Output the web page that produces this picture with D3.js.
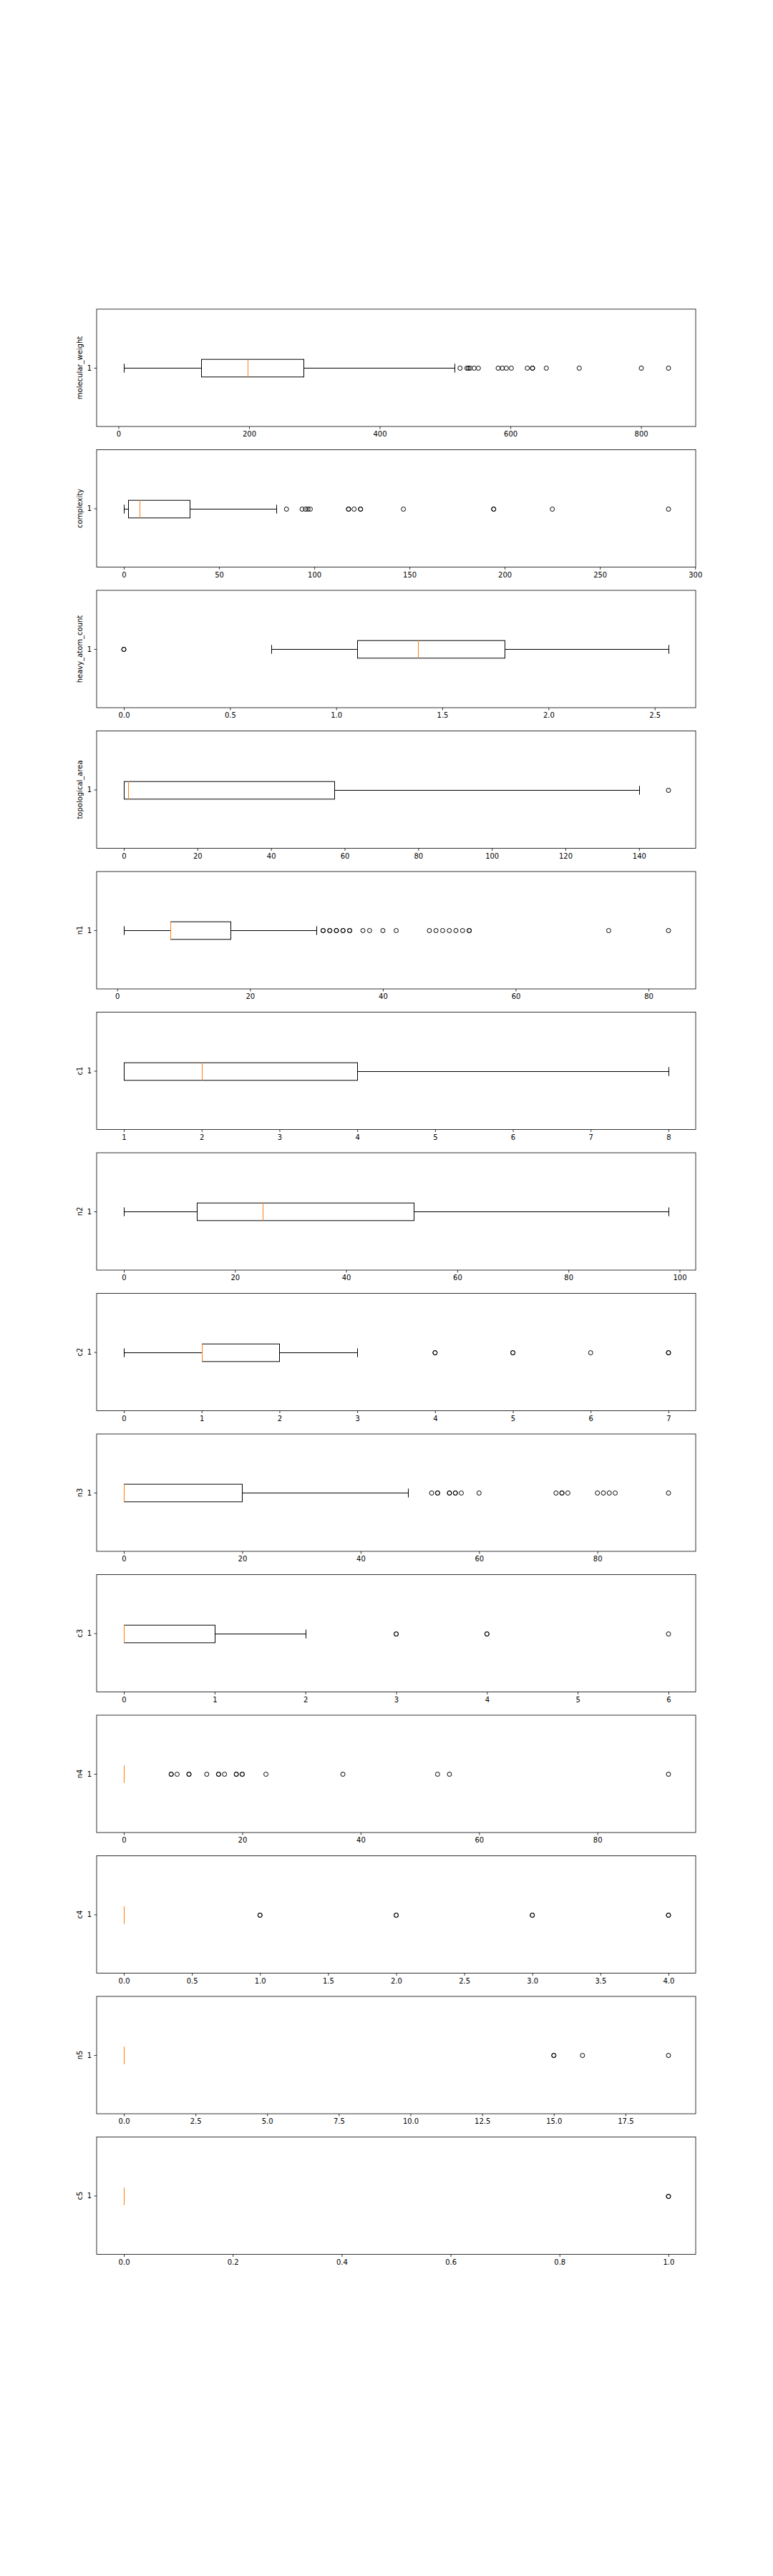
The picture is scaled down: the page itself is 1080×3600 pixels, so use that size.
<!DOCTYPE html>
<html>
<head>
<meta charset="utf-8">
<script src="https://cdn.jsdelivr.net/npm/d3@7"></script>
<style>
  html, body { margin: 0; padding: 0; background: #fff; }
  svg { display: block; }
  text { font-family: "DejaVu Sans", sans-serif; }
</style>
</head>
<body>
<div id="chart"></div>
<script>
// ---- Data ----
const features = ["molecular_weight", "complexity", "heavy_atom_count", "topological_area",
  "n1", "c1", "n2", "c2", "n3", "c3", "n4", "c4", "n5", "c5"];

const whiskerLow  = [8.3, 0, 0.693, 0, 1, 1, 0, 0, 0, 0, 0, 0, 0, 0];
const q1          = [126.8, 2.1, 1.099, 0, 8, 1, 13.1, 1, 0, 0, 0, 0, 0, 0];
const medians     = [197.7, 8.3, 1.386, 1.1, 8, 2, 25, 1, 0, 0, 0, 0, 0, 0];
const q3          = [283, 34.4, 1.792, 57.2, 17.1, 4, 52.1, 2, 20, 1, 0, 0, 0, 0];
const whiskerHigh = [514.5, 80.1, 2.565, 140.1, 30, 8, 98, 3, 48, 2, 0, 0, 0, 0];

const fliers = [
  [523, 533.5, 535.7, 538.3, 544.4, 551, 581.3, 587.6, 593.7, 601.4, 625.9, 633.9, 633.9, 655, 705.4, 800.4, 842],
  [85.4, 93.6, 95.4, 96.7, 97.9, 118, 118, 120.9, 124.3, 124.3, 146.8, 194.2, 194.2, 225, 286],
  [0, 0],
  [148],
  [31, 31, 32, 32, 33, 33, 34, 34, 35, 35, 37, 38, 40, 42, 47, 48, 49, 50, 51, 52, 53, 53, 74, 83],
  [],
  [],
  [4, 4, 5, 5, 6, 7, 7],
  [52, 53, 53, 55, 55, 56, 56, 57, 60, 73, 74, 74, 75, 80, 81, 82, 83, 92],
  [3, 3, 4, 4, 6],
  [8, 8, 9, 11, 11, 14, 16, 16, 17, 19, 19, 20, 20, 24, 37, 53, 55, 92],
  [1, 1, 2, 2, 3, 3, 4, 4],
  [15, 15, 16, 19],
  [1, 1]
];

const tickLabels = [
  ["0", "200", "400", "600", "800"],
  ["0", "50", "100", "150", "200", "250", "300"],
  ["0.0", "0.5", "1.0", "1.5", "2.0", "2.5"],
  ["0", "20", "40", "60", "80", "100", "120", "140"],
  ["0", "20", "40", "60", "80"],
  ["1", "2", "3", "4", "5", "6", "7", "8"],
  ["0", "20", "40", "60", "80", "100"],
  ["0", "1", "2", "3", "4", "5", "6", "7"],
  ["0", "20", "40", "60", "80"],
  ["0", "1", "2", "3", "4", "5", "6"],
  ["0", "20", "40", "60", "80"],
  ["0.0", "0.5", "1.0", "1.5", "2.0", "2.5", "3.0", "3.5", "4.0"],
  ["0.0", "2.5", "5.0", "7.5", "10.0", "12.5", "15.0", "17.5"],
  ["0.0", "0.2", "0.4", "0.6", "0.8", "1.0"]
];

// ---- Layout ----
const W = 1080, H = 3600;
const left = 135, right = 972;
const top0 = 432, step = 196.5, ph = 164;
const boxWidth = 0.15, capWidth = 0.075;
const medianColor = "#ff7f0e";

const svg = d3.select("#chart").append("svg")
  .attr("width", W).attr("height", H)
  .attr("viewBox", `0 0 ${W} ${H}`);
svg.append("rect").attr("width", W).attr("height", H).attr("fill", "#fff");

features.forEach((name, i) => {
  const top = top0 + i * step;
  const g = svg.append("g");

  const lo = d3.min([whiskerLow[i], ...fliers[i]]);
  const hi = d3.max([whiskerHigh[i], ...fliers[i]]);
  const pad = (hi - lo) * 0.05;
  const x = d3.scaleLinear().domain([lo - pad, hi + pad]).range([left, right]);
  const y = d3.scaleLinear().domain([0.5, 1.5]).range([top + ph, top]);
  const px = v => Math.round(x(v)) + 0.5;

  const yc = Math.round(y(1)) + 0.5;
  const bh = y(1 - boxWidth / 2) - y(1 + boxWidth / 2);
  const ch = y(1 - capWidth / 2) - y(1 + capWidth / 2);
  const flatBox = q1[i] === q3[i];

  // whiskers
  if (whiskerLow[i] !== q1[i]) {
    g.append("line").attr("x1", px(whiskerLow[i])).attr("x2", px(q1[i]))
      .attr("y1", yc).attr("y2", yc).attr("stroke", "#000").attr("stroke-width", 1);
  }
  if (whiskerHigh[i] !== q3[i]) {
    g.append("line").attr("x1", px(q3[i])).attr("x2", px(whiskerHigh[i]))
      .attr("y1", yc).attr("y2", yc).attr("stroke", "#000").attr("stroke-width", 1);
  }
  // caps (hidden under the median when the whole box collapses to one value)
  if (!flatBox || whiskerLow[i] !== whiskerHigh[i]) {
    [whiskerLow[i], whiskerHigh[i]].forEach(v => {
      g.append("line").attr("x1", px(v)).attr("x2", px(v))
        .attr("y1", yc - ch / 2).attr("y2", yc + ch / 2)
        .attr("stroke", "#000").attr("stroke-width", 1);
    });
  }
  // box
  if (!flatBox) {
    g.append("rect").attr("x", px(q1[i])).attr("y", yc - bh / 2)
      .attr("width", px(q3[i]) - px(q1[i])).attr("height", bh)
      .attr("fill", "none").attr("stroke", "#000").attr("stroke-width", 1);
  }
  // median
  g.append("line").attr("x1", px(medians[i])).attr("x2", px(medians[i]))
    .attr("y1", yc - bh / 2).attr("y2", yc + bh / 2)
    .attr("stroke", medianColor).attr("stroke-width", 1);
  // fliers
  g.selectAll("circle.f").data(fliers[i]).join("circle")
    .attr("class", "f")
    .attr("cx", d => x(d)).attr("cy", yc).attr("r", 3)
    .attr("fill", "none").attr("stroke", "#000").attr("stroke-width", 1);

  // x axis
  const ticks = tickLabels[i].map(Number);
  const xAxis = d3.axisBottom(x).tickValues(ticks)
    .tickFormat((d, k) => tickLabels[i][k])
    .tickSize(3.5).tickPadding(3.5);
  const gx = g.append("g").attr("transform", `translate(0,${top + ph})`).call(xAxis);
  gx.select(".domain").remove();
  gx.selectAll("line").attr("stroke", "#000").attr("stroke-width", 0.8);
  gx.selectAll("text").attr("fill", "#000").style("font-size", "10px")
    .style("font-family", "'DejaVu Sans', sans-serif");

  // y axis
  const yAxis = d3.axisLeft(y).tickValues([1]).tickFormat(() => "1")
    .tickSize(3.5).tickPadding(3.5);
  const gy = g.append("g").attr("transform", `translate(${left},0)`).call(yAxis);
  gy.select(".domain").remove();
  gy.selectAll("line").attr("stroke", "#000").attr("stroke-width", 0.8);
  gy.selectAll("text").attr("fill", "#000").style("font-size", "10px")
    .style("font-family", "'DejaVu Sans', sans-serif");

  // y label
  g.append("text")
    .attr("transform", `translate(115,${y(1)}) rotate(-90)`)
    .attr("text-anchor", "middle")
    .style("font-size", "10px")
    .attr("fill", "#000")
    .text(name);

  // frame
  g.append("rect").attr("x", left).attr("y", top)
    .attr("width", right - left).attr("height", ph)
    .attr("fill", "none").attr("stroke", "#000").attr("stroke-width", 0.8);
});
</script>
</body>
</html>
